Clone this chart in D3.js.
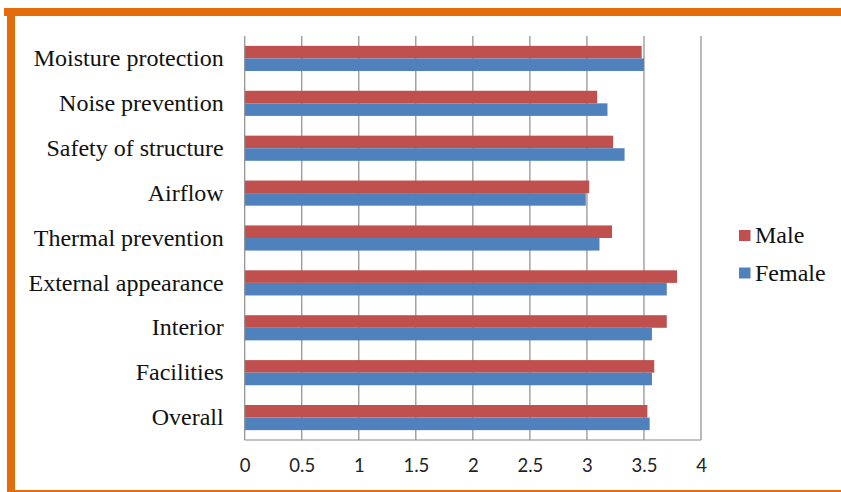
<!DOCTYPE html>
<html><head><meta charset="utf-8">
<script src="https://cdn.jsdelivr.net/npm/d3@7"></script>
<style>body{margin:0;background:#fff}svg{display:block}</style>
</head><body>
<svg id="c" width="841" height="492"></svg>
<script>
const categories = ["Moisture protection","Noise prevention","Safety of structure","Airflow","Thermal prevention","External appearance","Interior","Facilities","Overall"];
const maleValues   = [3.48, 3.09, 3.23, 3.02, 3.22, 3.79, 3.70, 3.59, 3.53];
const femaleValues = [3.50, 3.18, 3.33, 2.99, 3.11, 3.70, 3.57, 3.57, 3.55];
const seriesNames = ["Male","Female"];
const seriesColors = ["#C0504D","#4F81BD"];
const tickValues = [0,0.5,1,1.5,2,2.5,3,3.5,4];

const svg = d3.select("#c");
// orange frame
svg.append("rect").attr("x",4).attr("y",8).attr("width",837).attr("height",8).attr("fill","#E46C0A");
svg.append("rect").attr("x",7).attr("y",8).attr("width",8).attr("height",484).attr("fill","#E46C0A");
svg.append("rect").attr("x",15).attr("y",490).attr("width",826).attr("height",2).attr("fill","#E46C0A");

const x = d3.scaleLinear().domain([0,4]).range([244.7,701]);
const y = d3.scaleBand().domain(categories).range([36,440]).paddingInner(0.44).paddingOuter(0.22);
const ys = d3.scaleBand().domain(seriesNames).range([0,y.bandwidth()]);

// gridlines
svg.append("g").selectAll("line").data(tickValues.slice(1)).join("line")
  .attr("x1",d=>x(d)).attr("x2",d=>x(d)).attr("y1",36).attr("y2",440)
  .attr("stroke","#8C8C8C").attr("stroke-width",1.2);

const data = categories.map((c,i)=>({c, vals:[maleValues[i], femaleValues[i]]}));
const g = svg.append("g");
data.forEach(d=>{
  seriesNames.forEach((s,j)=>{
    g.append("rect").attr("x",x(0)).attr("y",y(d.c)+ys(s))
      .attr("width",x(d.vals[j])-x(0)).attr("height",ys.bandwidth())
      .attr("fill",seriesColors[j]);
  });
});

// axes lines
svg.append("line").attr("x1",x(0)).attr("x2",x(0)).attr("y1",36).attr("y2",440).attr("stroke","#8C8C8C").attr("stroke-width",1.2);
svg.append("line").attr("x1",x(0)).attr("x2",x(4)).attr("y1",440).attr("y2",440).attr("stroke","#8C8C8C").attr("stroke-width",1.2);

// x tick labels
const xAxis = d3.axisBottom(x).tickValues(tickValues).tickSize(0).tickPadding(19).tickFormat(d3.format("~g"));
const xg = svg.append("g").attr("transform","translate(0,440)").call(xAxis);
xg.select(".domain").remove();
xg.selectAll("text").attr("font-family","Lato, 'Open Sans', sans-serif").attr("font-size",18.5).attr("fill","#222");

// y category labels
const yAxis = d3.axisLeft(y).tickSize(0).tickPadding(21);
const yg = svg.append("g").attr("transform",`translate(${x(0)},0)`).call(yAxis);
yg.select(".domain").remove();
yg.selectAll("text").attr("font-family","'Liberation Serif', 'Times New Roman', serif").attr("font-size",24).attr("fill","#111");

// legend
const lg = svg.append("g");
seriesNames.forEach((s,j)=>{
  const yy = 230 + j*37.5;
  lg.append("rect").attr("x",739).attr("y",yy).attr("width",11.5).attr("height",11).attr("fill",seriesColors[j]);
  lg.append("text").attr("x",755).attr("y",yy+13).text(s)
    .attr("font-family","'Liberation Serif', 'Times New Roman', serif").attr("font-size",24).attr("fill","#111");
});
</script>
</body></html>
